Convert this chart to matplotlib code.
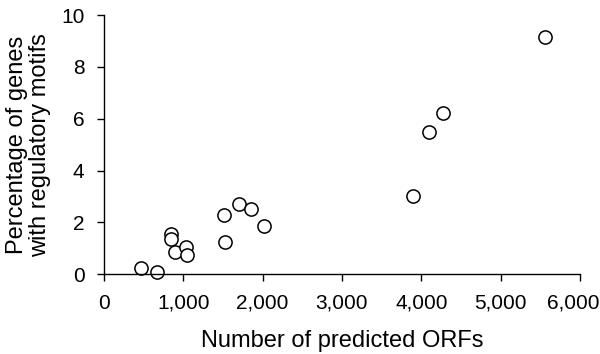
import matplotlib
matplotlib.use('Agg')
import matplotlib.pyplot as plt
import matplotlib.transforms as mtransforms
from matplotlib.ticker import FuncFormatter

# Data
orfs = [466, 672, 841, 845, 895, 1030, 1047, 1517, 1530, 1707, 1858, 2014,
        3892, 4102, 4279, 5553]
pct_motifs = [0.23, 0.10, 1.54, 1.37, 0.85, 1.05, 0.73, 2.29, 1.26, 2.70,
              2.51, 1.87, 3.02, 5.50, 6.23, 9.14]

x_ticks = [0, 1000, 2000, 3000, 4000, 5000, 6000]
y_ticks = [0, 2, 4, 6, 8, 10]

plt.rcParams['font.family'] = ['Liberation Sans', 'DejaVu Sans']

fig = plt.figure(figsize=(6, 3.54), dpi=100)
ax = fig.add_axes([0.1733, 0.2251, 0.7934, 0.7325])

ax.plot(orfs, pct_motifs, linestyle='none', marker='o', markersize=9.5,
        markerfacecolor='white', markeredgecolor='black', markeredgewidth=1.1,
        clip_on=False)

ax.set_xlim(0, 6000)
ax.set_ylim(0, 10)
ax.set_xticks(x_ticks)
ax.set_yticks(y_ticks)
ax.xaxis.set_major_formatter(FuncFormatter(lambda v, p: f"{int(v):,}"))

for side in ['top', 'right']:
    ax.spines[side].set_visible(False)
for side in ['left', 'bottom']:
    ax.spines[side].set_linewidth(1.0)

ax.tick_params(direction='out', length=5, width=1.0, labelsize=15)
ax.tick_params(axis='x', pad=9)
ax.tick_params(axis='y', pad=9)

# last x label sits a little left of its tick, as in the original
last = ax.get_xticklabels()[-1]
last.set_transform(last.get_transform() +
                   mtransforms.ScaledTranslation(-7 / 100, 0, fig.dpi_scale_trans))

ax.set_ylabel("Percentage of genes\nwith regulatory motifs", fontsize=17,
              linespacing=1.05)
ax.yaxis.set_label_coords(-0.112, 0.5)
ax.set_xlabel("Number of predicted ORFs", fontsize=17)
ax.xaxis.set_label_coords(0.5, -0.215)

fig.savefig('out.png', dpi=100)
